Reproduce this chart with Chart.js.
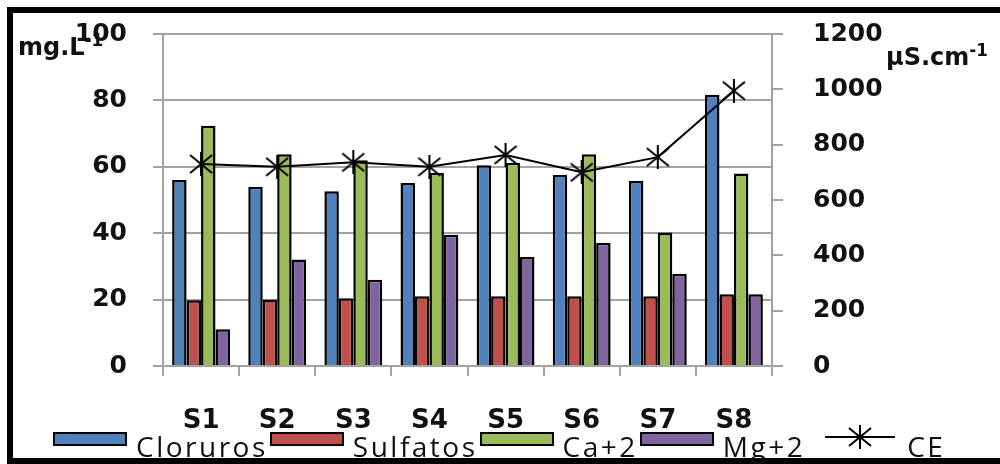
<!DOCTYPE html>
<html lang="es">
<head>
<meta charset="UTF-8">
<title>Cloruros, sulfatos, Ca, Mg y CE</title>
<script src="https://cdn.jsdelivr.net/npm/chart.js"></script>
<style>
    body {
        margin: 0;
        width: 1000px;
        height: 464px;
        overflow: hidden;
        background: #fff;
        position: relative;
        font-family: "DejaVu Sans", sans-serif;
    }
    .frame {
        position: absolute;
        left: 7px;
        top: 7px;
        width: 1000px;
        height: 457px;
        box-sizing: border-box;
        border: 6px solid #000;
    }
    canvas {
        position: absolute;
        left: 0;
        top: 0;
    }
    .unit {
        position: absolute;
        font-weight: bold;
        color: #111;
        white-space: nowrap;
    }
    .unit sup {
        font-size: 0.7em;
    }
    #unitLeft { left: 18px; top: 30px; font-size: 24px; }
    #unitRight { left: 886px; top: 40px; font-size: 24px; }
    #legend {
        position: absolute;
        left: 53px;
        top: 428px;
        display: flex;
        align-items: flex-start;
        font-family: "Open Sans", sans-serif;
        font-size: 28px;
        line-height: 37px;
        letter-spacing: 2.5px;
        color: #111;
        white-space: nowrap;
    }
    .item {
        display: flex;
        align-items: flex-start;
        margin-right: 2px;
    }
    .box {
        width: 70px;
        height: 10px;
        border: 2px solid #000;
        margin-right: 9px;
        margin-top: 4px;
    }
    .lineKey {
        margin-right: 12px;
        margin-left: 18px;
        margin-top: -3px;
    }
</style>
</head>
<body>
<div class="frame"></div>
<canvas id="chart" width="1000" height="464"></canvas>
<div class="unit" id="unitLeft">mg.L<sup>-1</sup></div>
<div class="unit" id="unitRight">µS.cm<sup>-1</sup></div>
<div id="legend"></div>
<script>
// values
const categories = ['S1', 'S2', 'S3', 'S4', 'S5', 'S6', 'S7', 'S8'];
const cloruros = [56, 54, 52.6, 55.1, 60.5, 57.5, 55.7, 81.7];
const sulfatos = [19.8, 20, 20.4, 21, 21, 21, 21, 21.6];
const calcio = [72.4, 63.8, 62, 58.2, 61.2, 63.8, 40.2, 58];
const magnesio = [11.1, 32.1, 26, 39.5, 32.8, 37.1, 27.8, 21.6];
const ce = [730, 720, 736, 720, 763, 700, 755, 995];
const leftTicks = [0, 20, 40, 60, 80, 100];
const rightTicks = [0, 200, 400, 600, 800, 1000, 1200];

const seriesNames = ['Cloruros', 'Sulfatos', 'Ca+2', 'Mg+2', 'CE'];
const barColors = ['#4f81bd', '#c0504d', '#9bbb59', '#8064a2'];

// Excel style star marker: an X with a vertical stroke
function makeStar(w, h) {
    const c = document.createElement('canvas');
    c.width = w; c.height = h;
    const g = c.getContext('2d');
    g.strokeStyle = '#000';
    g.lineWidth = 2;
    g.beginPath();
    g.moveTo(1, 3); g.lineTo(w - 1, h - 3);
    g.moveTo(w - 1, 3); g.lineTo(1, h - 3);
    g.moveTo(w / 2, 0); g.lineTo(w / 2, h);
    g.stroke();
    return c;
}
const star = makeStar(24, 24);

const gridGray = '#a3a3a3';
const tickFont = { family: 'DejaVu Sans', size: 25, weight: 'bold' };

// keep the label overflow from pushing the plot area down
const noPad = s => { s.paddingTop = 0; s.paddingBottom = 0; };

const barSets = [cloruros, sulfatos, calcio, magnesio].map((vals, i) => ({
    type: 'bar',
    label: seriesNames[i],
    data: vals,
    backgroundColor: barColors[i],
    borderColor: '#000',
    borderWidth: 2.5,
    yAxisID: 'y',
    order: 1
}));

new Chart(document.getElementById('chart'), {
    data: {
        labels: categories,
        datasets: [{
            type: 'line',
            label: seriesNames[4],
            data: ce,
            borderColor: '#000',
            borderWidth: 2,
            pointStyle: star,
            tension: 0,
            yAxisID: 'y2',
            order: 0
        }].concat(barSets)
    },
    options: {
        responsive: false,
        animation: false,
        devicePixelRatio: 1,
        layout: { padding: { top: 34, left: 0, right: 0, bottom: 0 } },
        datasets: {
            bar: { categoryPercentage: 0.76, barPercentage: 1.0 }
        },
        plugins: {
            legend: { display: false },
            tooltip: { enabled: false }
        },
        scales: {
            x: {
                offset: true,
                grid: { offset: true, drawOnChartArea: false, tickLength: 10, color: gridGray, lineWidth: 2 },
                border: { color: gridGray, width: 2 },
                ticks: { font: { family: 'DejaVu Sans', size: 26, weight: 'bold' }, color: '#111', padding: 30 },
                afterFit: s => { s.height = 98; }
            },
            y: {
                position: 'left',
                min: 0,
                max: 100,
                afterBuildTicks: s => { s.ticks = leftTicks.map(v => ({ value: v })); },
                grid: { tickLength: 10, color: gridGray, lineWidth: 2 },
                border: { color: gridGray, width: 2 },
                ticks: { font: tickFont, color: '#111', padding: 26, callback: v => String(v) },
                afterFit: s => { s.width = 163; noPad(s); }
            },
            y2: {
                position: 'right',
                min: 0,
                max: 1200,
                afterBuildTicks: s => { s.ticks = rightTicks.map(v => ({ value: v })); },
                grid: { drawOnChartArea: false, tickLength: 11, color: gridGray, lineWidth: 2 },
                border: { color: gridGray, width: 2 },
                ticks: { font: tickFont, color: '#111', padding: 30, callback: v => String(v) },
                afterFit: s => { s.width = 228; noPad(s); }
            }
        }
    }
});

// legend built from the same series
const legend = document.getElementById('legend');
seriesNames.forEach((name, i) => {
    const item = document.createElement('div');
    item.className = 'item';
    if (i < barColors.length) {
        const box = document.createElement('div');
        box.className = 'box';
        box.style.background = barColors[i];
        item.appendChild(box);
    } else {
        const key = document.createElement('canvas');
        key.width = 70; key.height = 24;
        key.className = 'lineKey';
        key.style.position = 'static';
        const g = key.getContext('2d');
        g.strokeStyle = '#000';
        g.lineWidth = 2;
        g.beginPath(); g.moveTo(0, 12); g.lineTo(70, 12); g.stroke();
        g.drawImage(star, 23, 0);
        item.appendChild(key);
    }
    const txt = document.createElement('span');
    txt.textContent = name;
    item.appendChild(txt);
    legend.appendChild(item);
});
</script>
</body>
</html>
